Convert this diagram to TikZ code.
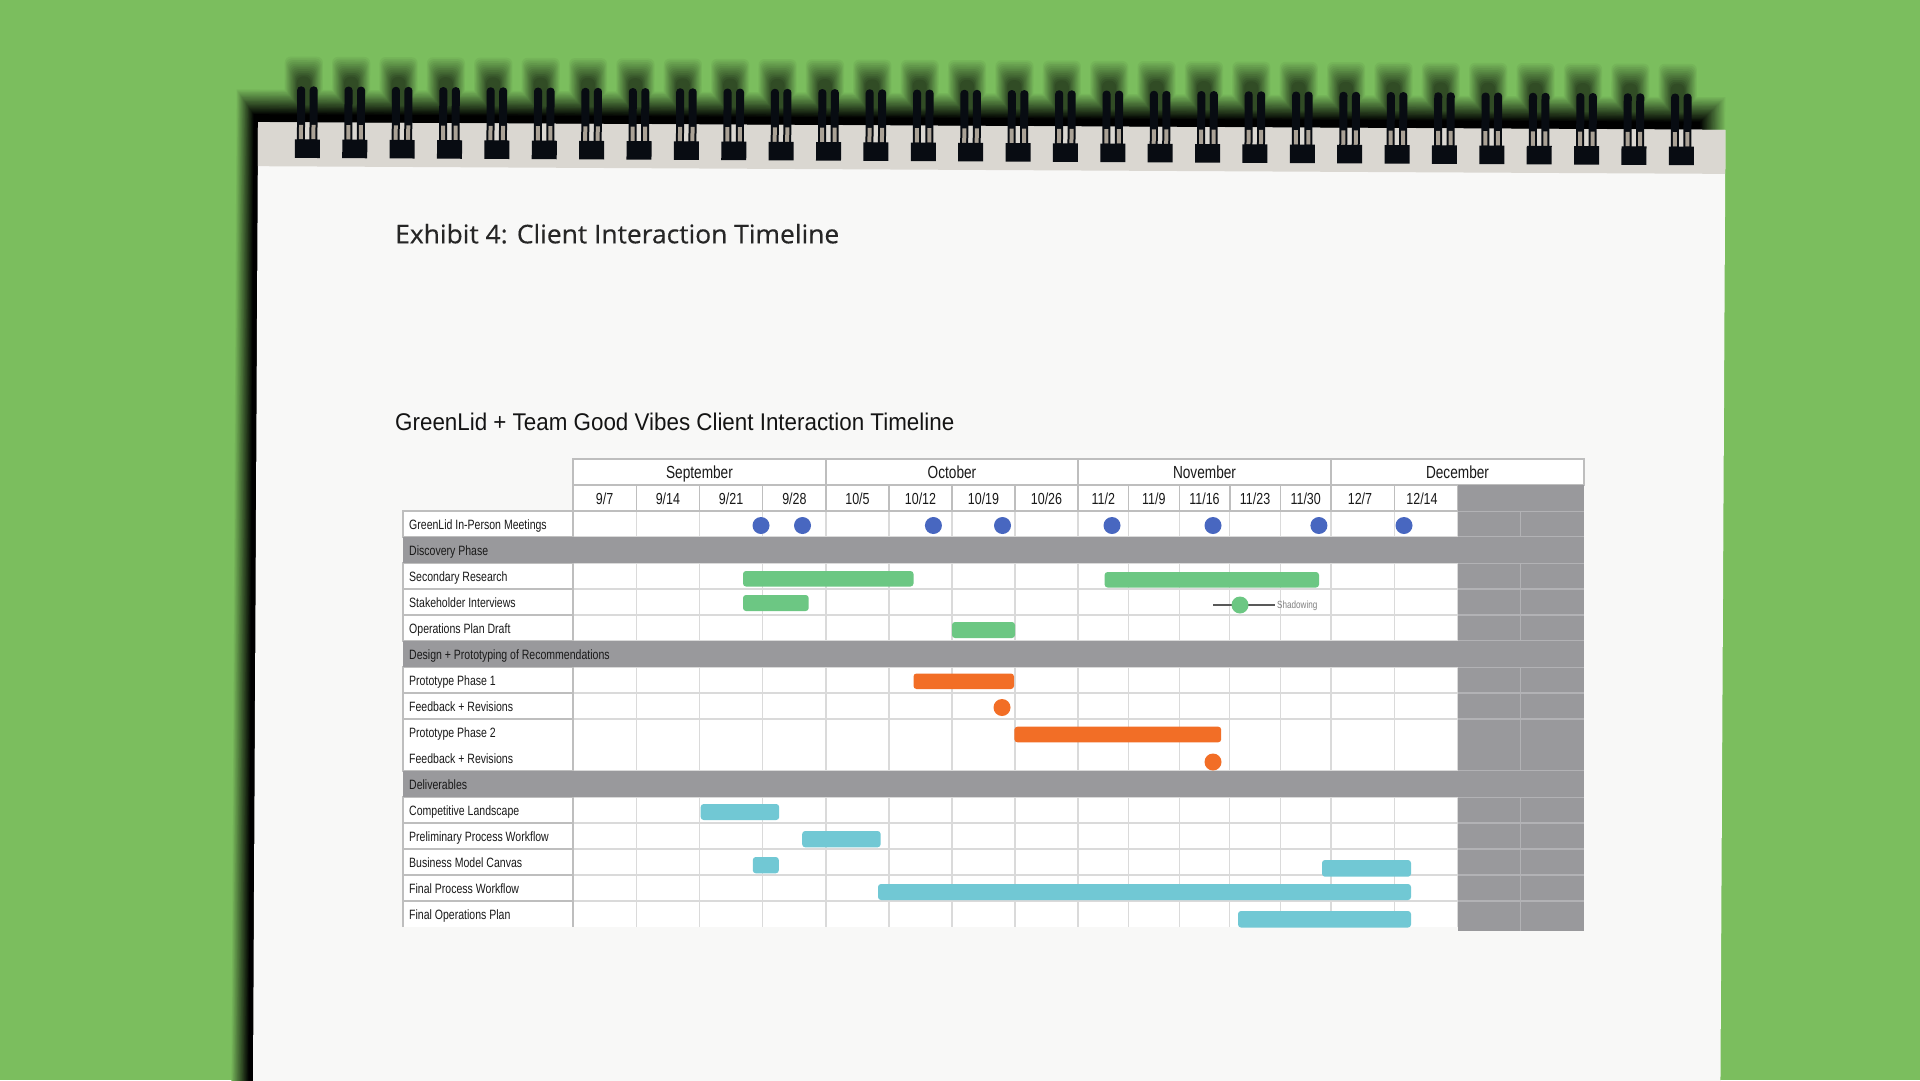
\documentclass[tikz,border=0pt]{standalone}
\usepackage{fontspec}
\usepackage{graphicx}
\setmainfont{Liberation Sans}
\newfontfamily\titlefont[FakeBold=0.4]{Open Sans}
\definecolor{bg}{RGB}{123,190,94}
\definecolor{paperc}{RGB}{248,248,247}
\definecolor{stripc}{RGB}{218,215,209}
\definecolor{bandc}{RGB}{153,153,156}
\definecolor{gridc}{RGB}{218,218,218}
\definecolor{cellc}{RGB}{190,190,190}
\definecolor{bluedot}{RGB}{72,103,192}
\definecolor{greenbar}{RGB}{108,199,131}
\definecolor{orangebar}{RGB}{242,110,38}
\definecolor{cyanbar}{RGB}{113,200,212}
\definecolor{ringc}{RGB}{8,12,18}
\definecolor{holec}{RGB}{170,162,150}
\newcommand{\cnd}[1]{\scalebox{0.78}[1]{#1}}
\begin{document}
\begin{tikzpicture}[x=1pt,y=-1pt,
  lbl/.style={anchor=base west, inner sep=0pt, font=\fontsize{13.5}{14}\selectfont, text=black!90},
  datel/.style={anchor=base, inner sep=0pt, font=\fontsize{16}{16}\selectfont, text=black!90},
  monthl/.style={anchor=base, inner sep=0pt, font=\fontsize{17.5}{18}\selectfont, text=black!90},
  cell/.style={draw=cellc, line width=1.4pt, fill=white},
  gridline/.style={draw=gridc, line width=1.3pt},
  darkline/.style={draw=bandc!75!white, line width=1.2pt},
  bar/.style={rounded corners=3pt},
]
\useasboundingbox (0,0) rectangle (1920,1080);
\fill[bg] (0,0) rectangle (1920,1080);

% ---------- notebook (slightly rotated) ----------
\begin{scope}[rotate around={-0.3:(990,600)}]
  % soft shadow: layers drawn from light to dark (opaque colour mixes)
  \foreach \k in {0,...,19}{
    \pgfmathsetmacro\e{19-\k}
    \pgfmathtruncatemacro\pct{5*(\k+1)}
    \fill[black!\pct!bg] (251-0.9*\e,118-1.3*\e) rectangle (1698+1.3*\e,1120);
    \ifnum\k<12
      \foreach \i in {0,...,29}{
        \pgfmathsetmacro\c{301+47.38*\i}
        \pgfmathsetmacro\f{11-\k}
        \fill[black!\pct!bg, rounded corners=6pt] (\c-7-1.1*\f,80-1.8*\f) rectangle (\c+7+1.1*\f,122);
      }
    \fi
  }
  % paper
  \fill[paperc] (255.5,126) rectangle (1723,1120);
  \fill[stripc] (255.5,126) rectangle (1723,170);
  % spiral rings
  \foreach \i in {0,...,29}{
    \pgfmathsetmacro\c{305+47.38*\i}
    \fill[ringc, rounded corners=3.5pt] (\c-10.5,90) rectangle (\c-2.5,150);
    \fill[ringc, rounded corners=3.5pt] (\c+2,90) rectangle (\c+10,150);
    \fill[holec] (\c-8.5,128.5) rectangle (\c-4.5,143);
    \fill[holec] (\c+4,128.5) rectangle (\c+8,143);
    \fill[ringc] (\c-12.5,143) rectangle (\c+12.5,161.5);
  }
\end{scope}

% ---------- titles ----------
\node[anchor=base west, inner sep=0pt, text=black!85] (t1) at (395,243.3)
  {\resizebox{444pt}{19.5pt}{\titlefont Exhibit 4: Client Interaction Timeline}};
\node[anchor=base west, inner sep=0pt, text=black!92] (t2) at (395,430)
  {\resizebox{559pt}{17.5pt}{GreenLid + Team Good Vibes Client Interaction Timeline}};

% ---------- grid ----------
\fill[white] (573,511) rectangle (1457.5,927);
\foreach \x in {636.25,699.5,762.75,826,889,952,1015,1078,1128.6,1179.2,1229.8,1280.4,1331,1394.25,1457.5}{
  \draw[gridline] (\x,511) -- (\x,927);
}
\foreach \y in {537,563,589,615,641,667,693,719,771,797,823,849,875,901}{
  \draw[gridline] (573,\y) -- (1457.5,\y);
}
% dark right columns
\fill[bandc] (1457.5,485) rectangle (1584,931);
\draw[darkline] (1520.75,511) -- (1520.75,931);
\foreach \y in {511,537,563,589,615,641,667,693,719,771,797,823,849,875,901}{
  \draw[darkline] (1457.5,\y) -- (1584,\y);
}
% label cells
\foreach \ya/\yb in {511/537,563/589,589/615,615/641,667/693,693/719,719/771,797/823,823/849,849/875,875/901}{
  \draw[cell] (403,\ya) rectangle (573,\yb);
}
\fill[white] (403,901) rectangle (573,927);
\draw[cellc, line width=1.4pt] (403,927) -- (403,901) -- (573,901) -- (573,927);
% header months
\draw[cell] (573,459) rectangle (826,485);
\draw[cell] (826,459) rectangle (1078,485);
\draw[cell] (1078,459) rectangle (1331,485);
\draw[cell] (1331,459) rectangle (1584,485);
% header dates
\draw[cell] (573,485) rectangle (1457.5,511);
\foreach \x in {636.25,699.5,762.75,826,889,952,1015,1078,1128.6,1179.2,1229.8,1280.4,1331,1394.25}{
  \draw[cellc, line width=1.4pt] (\x,485) -- (\x,511);
}
\fill[bandc] (1457.5,485) rectangle (1584,511);
% phase bands
\fill[bandc] (403,537) rectangle (1584,563);
\fill[bandc] (403,641) rectangle (1584,667);
\fill[bandc] (403,771) rectangle (1584,797);

% ---------- header text ----------
\node[monthl] (m1) at (699.5,478.5) {\cnd{September}};
\node[monthl] (m2) at (952,478.5) {\cnd{October}};
\node[monthl] (m3) at (1204.5,478.5) {\cnd{November}};
\node[monthl] (m4) at (1457.5,478.5) {\cnd{December}};
\foreach \xc/\mm/\dd [count=\k] in {604.6/9/7,667.9/9/14,731.1/9/21,794.4/9/28,857.5/10/5,920.5/10/12,983.5/10/19,1046.5/10/26,1103.3/11/2,1153.9/11/9,1204.5/11/16,1255.1/11/23,1305.7/11/30,1360/12/7,1422/12/14}{
  \node[datel] (d\k) at (\xc,504) {\cnd{\mm/\dd}};
}

% ---------- row labels ----------
\node[lbl] (r1) at (409,529) {\cnd{GreenLid In-Person Meetings}};
\node[lbl] (r2) at (409,555) {\cnd{Discovery Phase}};
\node[lbl] (r3) at (409,581) {\cnd{Secondary Research}};
\node[lbl] (r4) at (409,607) {\cnd{Stakeholder Interviews}};
\node[lbl] (r5) at (409,633) {\cnd{Operations Plan Draft}};
\node[lbl] (r6) at (409,659) {\cnd{Design + Prototyping of Recommendations}};
\node[lbl] (r7) at (409,685) {\cnd{Prototype Phase 1}};
\node[lbl] (r8) at (409,711) {\cnd{Feedback + Revisions}};
\node[lbl] (r9) at (409,737) {\cnd{Prototype Phase 2}};
\node[lbl] (r10) at (409,763) {\cnd{Feedback + Revisions}};
\node[lbl] (r11) at (409,789) {\cnd{Deliverables}};
\node[lbl] (r12) at (409,815) {\cnd{Competitive Landscape}};
\node[lbl] (r13) at (409,841) {\cnd{Preliminary Process Workflow}};
\node[lbl] (r14) at (409,867) {\cnd{Business Model Canvas}};
\node[lbl] (r15) at (409,893) {\cnd{Final Process Workflow}};
\node[lbl] (r16) at (409,919) {\cnd{Final Operations Plan}};

% ---------- meetings ----------
\foreach \x in {761,802.5,933.4,1002.5,1112,1213,1318.9,1404}{
  \fill[bluedot] (\x,525.5) circle (8.5);
}
% ---------- discovery ----------
\fill[greenbar, bar] (743,571) rectangle (913.5,586.5);
\fill[greenbar, bar] (1104.6,572) rectangle (1319,587.5);
\fill[greenbar, bar] (743,595) rectangle (808.7,611);
\coordinate (sh1) at (1213,605);
\coordinate (sh2) at (1275,605);
\draw[black!65, line width=1.4pt] (sh1) -- (sh2);
\fill[greenbar] (1240,605) circle (8.5);
\node[anchor=base west, inner sep=0pt, font=\fontsize{10.4}{11}\selectfont, text=black!50] (shl) at (1277,608.5) {\cnd{Shadowing}};
\fill[greenbar, bar] (952,622) rectangle (1015,638);
% ---------- design ----------
\fill[orangebar, bar] (913.5,673.5) rectangle (1014,689);
\fill[orangebar] (1002,707.5) circle (8.5);
\fill[orangebar, bar] (1014.4,726.7) rectangle (1221.2,742.3);
\fill[orangebar] (1213,762) circle (8.5);
% ---------- deliverables ----------
\fill[cyanbar, bar] (700.7,804) rectangle (779.2,820);
\fill[cyanbar, bar] (802.2,831) rectangle (880.6,847.3);
\fill[cyanbar, bar] (752.8,857) rectangle (778.8,873.3);
\fill[cyanbar, bar] (1322,860) rectangle (1411,876.7);
\fill[cyanbar, bar] (878,884) rectangle (1411,900);
\fill[cyanbar, bar] (1238,911) rectangle (1411,927.5);
\end{tikzpicture}
\end{document}
